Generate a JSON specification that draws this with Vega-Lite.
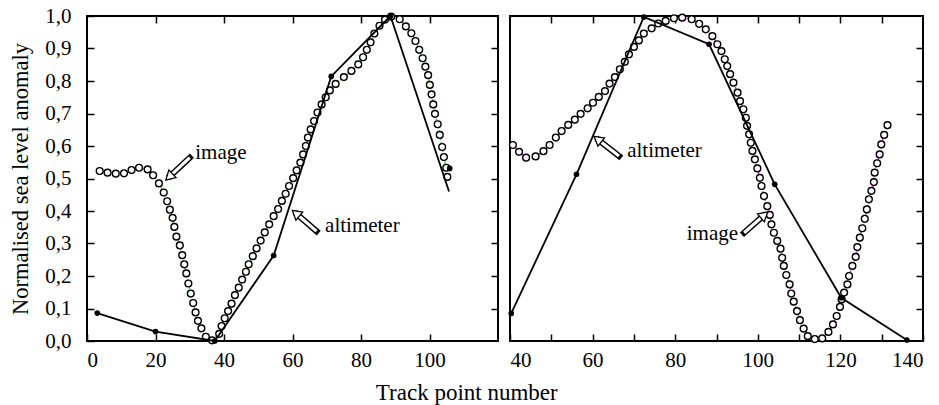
{
  "$schema": "https://vega.github.io/schema/vega-lite/v6.json",
  "background": "white",
  "padding": {"left": 8, "top": 4, "right": 14, "bottom": 0},
  "spacing": 5,
  "config": {
    "view": {"stroke": "black", "strokeWidth": 2},
    "font": "Liberation Serif",
    "axis": {"labelFont": "Liberation Serif", "titleFont": "Liberation Serif", "labelFontSize": 21, "titleFontSize": 22.5, "titleFontWeight": "normal", "labelColor": "black", "titleColor": "black", "tickColor": "black", "tickWidth": 1.5, "domain": false, "grid": false},
    "text": {"font": "Liberation Serif"}
  },
  "title": {"text": "Track point number", "orient": "bottom", "anchor": "middle", "font": "Liberation Serif", "fontSize": 23, "fontWeight": "normal", "color": "black", "offset": 11},
  "datasets": {
    "L_img": [
      {"x": 3.7, "y": 0.523}, {"x": 6.0, "y": 0.518}, {"x": 8.4, "y": 0.515}, {"x": 10.8, "y": 0.516}, {"x": 13.0, "y": 0.526}, {"x": 15.2, "y": 0.533}, {"x": 17.7, "y": 0.528}, {"x": 19.3, "y": 0.510}, {"x": 21.0, "y": 0.485}, {"x": 22.4, "y": 0.457}, {"x": 23.4, "y": 0.430}, {"x": 24.2, "y": 0.404}, {"x": 25.0, "y": 0.379}, {"x": 25.5, "y": 0.351}, {"x": 26.1, "y": 0.321}, {"x": 27.1, "y": 0.294}, {"x": 27.8, "y": 0.264}, {"x": 28.4, "y": 0.236}, {"x": 29.0, "y": 0.208}, {"x": 29.6, "y": 0.177}, {"x": 30.3, "y": 0.146}, {"x": 31.0, "y": 0.117}, {"x": 31.7, "y": 0.088}, {"x": 32.4, "y": 0.062}, {"x": 33.4, "y": 0.039}, {"x": 34.7, "y": 0.013}, {"x": 36.5, "y": 0.002},
      {"x": 38.6, "y": 0.022}, {"x": 39.3, "y": 0.046}, {"x": 40.2, "y": 0.070}, {"x": 41.2, "y": 0.092}, {"x": 42.2, "y": 0.115}, {"x": 43.2, "y": 0.141}, {"x": 44.3, "y": 0.164}, {"x": 45.3, "y": 0.189}, {"x": 46.4, "y": 0.213}, {"x": 47.2, "y": 0.236}, {"x": 48.4, "y": 0.261}, {"x": 49.5, "y": 0.285}, {"x": 50.7, "y": 0.309}, {"x": 51.9, "y": 0.334}, {"x": 53.2, "y": 0.359}, {"x": 54.5, "y": 0.384}, {"x": 55.8, "y": 0.406}, {"x": 56.9, "y": 0.431}, {"x": 58.0, "y": 0.453}, {"x": 59.0, "y": 0.477}, {"x": 60.2, "y": 0.501}, {"x": 61.2, "y": 0.525}, {"x": 62.3, "y": 0.549}, {"x": 63.1, "y": 0.574}, {"x": 63.9, "y": 0.600}, {"x": 64.5, "y": 0.626}, {"x": 65.3, "y": 0.651}, {"x": 66.3, "y": 0.677}, {"x": 67.3, "y": 0.703}, {"x": 68.5, "y": 0.728}, {"x": 69.7, "y": 0.750}, {"x": 70.9, "y": 0.771}, {"x": 72.6, "y": 0.791}, {"x": 75.0, "y": 0.812}, {"x": 77.2, "y": 0.831}, {"x": 79.2, "y": 0.851}, {"x": 80.6, "y": 0.873}, {"x": 81.7, "y": 0.896}, {"x": 82.8, "y": 0.919}, {"x": 83.9, "y": 0.946}, {"x": 85.4, "y": 0.970}, {"x": 87.0, "y": 0.989}, {"x": 88.8, "y": 0.998},
      {"x": 91.3, "y": 0.990}, {"x": 93.1, "y": 0.968}, {"x": 94.7, "y": 0.947}, {"x": 95.9, "y": 0.923}, {"x": 97.0, "y": 0.896}, {"x": 98.0, "y": 0.870}, {"x": 98.8, "y": 0.844}, {"x": 99.6, "y": 0.818}, {"x": 100.1, "y": 0.788}, {"x": 100.6, "y": 0.759}, {"x": 101.1, "y": 0.728}, {"x": 101.6, "y": 0.699}, {"x": 102.4, "y": 0.667}, {"x": 103.0, "y": 0.634}, {"x": 103.7, "y": 0.597}, {"x": 104.2, "y": 0.566}, {"x": 104.9, "y": 0.533}, {"x": 105.2, "y": 0.505}
    ],
    "L_alt": [
      {"x": 3.0, "y": 0.086, "kind": "both"}, {"x": 20.0, "y": 0.029, "kind": "both"}, {"x": 37.3, "y": 0.0, "kind": "both"}, {"x": 54.5, "y": 0.263, "kind": "both"}, {"x": 71.3, "y": 0.814, "kind": "both"}, {"x": 88.6, "y": 1.0, "kind": "both"}, {"x": 105.7, "y": 0.46, "kind": "line"}, {"x": 105.9, "y": 0.531, "kind": "dot"}
    ],
    "L_arrow": [
      {"tx": 30.0, "ty": 0.564, "hx": 24.3, "hy": 0.508, "dir": 227},
      {"tx": 67.0, "ty": 0.338, "hx": 61.3, "hy": 0.390, "dir": 310}
    ],
    "L_text": [
      {"x": 39.1, "y": 0.578, "label": "image"},
      {"x": 80.4, "y": 0.354, "label": "altimeter"}
    ],
    "R_img": [
      {"x": 40.7, "y": 0.603}, {"x": 42.2, "y": 0.582}, {"x": 43.9, "y": 0.564}, {"x": 46.2, "y": 0.568}, {"x": 48.1, "y": 0.584}, {"x": 49.6, "y": 0.603}, {"x": 51.1, "y": 0.626}, {"x": 52.5, "y": 0.646}, {"x": 54.1, "y": 0.665}, {"x": 55.7, "y": 0.681}, {"x": 57.1, "y": 0.699}, {"x": 58.8, "y": 0.716}, {"x": 60.1, "y": 0.733}, {"x": 61.5, "y": 0.751}, {"x": 63.0, "y": 0.769}, {"x": 64.1, "y": 0.792}, {"x": 65.4, "y": 0.812}, {"x": 66.6, "y": 0.836}, {"x": 67.8, "y": 0.859}, {"x": 68.8, "y": 0.882}, {"x": 70.0, "y": 0.905}, {"x": 71.2, "y": 0.925}, {"x": 72.4, "y": 0.946}, {"x": 74.3, "y": 0.962}, {"x": 75.9, "y": 0.977}, {"x": 77.7, "y": 0.985}, {"x": 79.7, "y": 0.993}, {"x": 81.7, "y": 0.995}, {"x": 84.0, "y": 0.990}, {"x": 85.8, "y": 0.976}, {"x": 87.4, "y": 0.959}, {"x": 89.0, "y": 0.938}, {"x": 90.2, "y": 0.913}, {"x": 91.2, "y": 0.892}, {"x": 92.0, "y": 0.867}, {"x": 92.6, "y": 0.846}, {"x": 93.3, "y": 0.821}, {"x": 94.1, "y": 0.795}, {"x": 95.1, "y": 0.764}, {"x": 95.7, "y": 0.738}, {"x": 96.5, "y": 0.713}, {"x": 97.1, "y": 0.687}, {"x": 97.4, "y": 0.662}, {"x": 97.9, "y": 0.636}, {"x": 98.3, "y": 0.610}, {"x": 98.7, "y": 0.585}, {"x": 99.3, "y": 0.559}, {"x": 99.9, "y": 0.531}, {"x": 100.5, "y": 0.502}, {"x": 100.9, "y": 0.477}, {"x": 101.5, "y": 0.446}, {"x": 102.3, "y": 0.415}, {"x": 102.9, "y": 0.388}, {"x": 103.3, "y": 0.359}, {"x": 103.9, "y": 0.333}, {"x": 104.7, "y": 0.308}, {"x": 105.5, "y": 0.284}, {"x": 105.9, "y": 0.256}, {"x": 106.3, "y": 0.231}, {"x": 106.9, "y": 0.203}, {"x": 107.7, "y": 0.174}, {"x": 108.1, "y": 0.146}, {"x": 108.7, "y": 0.121}, {"x": 109.5, "y": 0.092}, {"x": 110.2, "y": 0.064}, {"x": 111.1, "y": 0.038}, {"x": 112.1, "y": 0.015}, {"x": 113.8, "y": 0.006}, {"x": 115.6, "y": 0.008}, {"x": 117.1, "y": 0.028}, {"x": 118.2, "y": 0.051}, {"x": 119.1, "y": 0.077}, {"x": 119.9, "y": 0.105}, {"x": 120.3, "y": 0.128}, {"x": 120.9, "y": 0.149}, {"x": 121.7, "y": 0.174}, {"x": 122.1, "y": 0.200}, {"x": 122.9, "y": 0.231}, {"x": 123.7, "y": 0.259}, {"x": 124.1, "y": 0.289}, {"x": 124.7, "y": 0.318}, {"x": 125.3, "y": 0.347}, {"x": 125.9, "y": 0.376}, {"x": 126.4, "y": 0.405}, {"x": 126.9, "y": 0.436}, {"x": 127.5, "y": 0.462}, {"x": 128.1, "y": 0.489}, {"x": 128.3, "y": 0.518}, {"x": 128.9, "y": 0.547}, {"x": 129.5, "y": 0.574}, {"x": 129.9, "y": 0.605}, {"x": 130.6, "y": 0.634}, {"x": 131.4, "y": 0.664}
    ],
    "R_alt": [
      {"x": 40.3, "y": 0.085}, {"x": 56.1, "y": 0.513}, {"x": 72.4, "y": 0.997}, {"x": 88.2, "y": 0.913}, {"x": 104.1, "y": 0.482}, {"x": 120.2, "y": 0.133}, {"x": 136.1, "y": 0.003}
    ],
    "R_arrow": [
      {"tx": 66.4, "ty": 0.569, "hx": 61.5, "hy": 0.618, "dir": 308},
      {"tx": 96.7, "ty": 0.333, "hx": 101.3, "hy": 0.385, "dir": 49}
    ],
    "R_text": [
      {"x": 77.4, "y": 0.585, "label": "altimeter"},
      {"x": 89.0, "y": 0.329, "label": "image"}
    ]
  },
  "hconcat": [
    {
      "width": 411,
      "height": 325,
      "resolve": {"axis": {"x": "independent", "y": "independent"}},
      "layer": [
        {
          "data": {"name": "L_img"},
          "mark": {"type": "line", "color": "#33cc33", "strokeWidth": 1.5, "strokeDash": [2, 2]},
          "encoding": {
            "x": {"field": "x", "type": "quantitative", "scale": {"domain": [0, 120], "nice": false, "zero": false},
                  "axis": {"orient": "bottom", "values": [0, 20, 40, 60, 80, 100], "tickSize": -7, "labelPadding": 15, "title": null}},
            "y": {"field": "y", "type": "quantitative", "scale": {"domain": [0, 1], "nice": false},
                  "axis": {"orient": "left", "values": [0, 0.1, 0.2, 0.3, 0.4, 0.5, 0.6, 0.7, 0.8, 0.9, 1.0], "labelExpr": "replace(format(datum.value, '.1f'), '.', ',')", "tickSize": -7, "labelPadding": 23, "title": "Normalised sea level anomaly", "titlePadding": 12}}
          }
        },
        {
          "data": {"name": "L_img"},
          "mark": {"type": "point", "shape": "circle", "filled": true, "fill": "white", "stroke": "black", "strokeWidth": 1.4, "size": 46, "opacity": 1},
          "encoding": {
            "x": {"field": "x", "type": "quantitative", "axis": null},
            "y": {"field": "y", "type": "quantitative", "axis": null}
          }
        },
        {
          "data": {"name": "L_alt"},
          "transform": [{"filter": "datum.kind != 'dot'"}],
          "mark": {"type": "line", "color": "black", "strokeWidth": 1.8},
          "encoding": {
            "x": {"field": "x", "type": "quantitative",
                  "axis": {"orient": "top", "values": [20, 40, 60, 80, 100], "tickSize": -7, "labels": false, "title": null}},
            "y": {"field": "y", "type": "quantitative",
                  "axis": {"orient": "right", "values": [0.1, 0.2, 0.3, 0.4, 0.5, 0.6, 0.7, 0.8, 0.9], "tickSize": -7, "labels": false, "title": null}}
          }
        },
        {
          "data": {"name": "L_alt"},
          "transform": [{"filter": "datum.kind != 'line'"}],
          "mark": {"type": "point", "shape": "circle", "filled": true, "color": "black", "size": 32, "opacity": 1},
          "encoding": {
            "x": {"field": "x", "type": "quantitative", "axis": null},
            "y": {"field": "y", "type": "quantitative", "axis": null}
          }
        },
        {
          "data": {"name": "L_arrow"},
          "mark": {"type": "rule", "color": "black", "strokeWidth": 6, "strokeCap": "square"},
          "encoding": {
            "x": {"field": "tx", "type": "quantitative", "axis": null},
            "y": {"field": "ty", "type": "quantitative", "axis": null},
            "x2": {"field": "hx"},
            "y2": {"field": "hy"}
          }
        },
        {
          "data": {"name": "L_arrow"},
          "mark": {"type": "rule", "color": "white", "strokeWidth": 3.2, "strokeCap": "butt"},
          "encoding": {
            "x": {"field": "tx", "type": "quantitative", "axis": null},
            "y": {"field": "ty", "type": "quantitative", "axis": null},
            "x2": {"field": "hx"},
            "y2": {"field": "hy"}
          }
        },
        {
          "data": {"name": "L_arrow"},
          "mark": {"type": "point", "shape": "triangle", "filled": true, "fill": "white", "stroke": "black", "strokeWidth": 1.3, "size": 110, "opacity": 1},
          "encoding": {
            "x": {"field": "hx", "type": "quantitative", "axis": null},
            "y": {"field": "hy", "type": "quantitative", "axis": null},
            "angle": {"field": "dir", "type": "quantitative", "scale": null}
          }
        },
        {
          "data": {"name": "L_text"},
          "mark": {"type": "text", "font": "Liberation Serif", "fontSize": 21, "color": "black", "align": "center", "baseline": "middle"},
          "encoding": {
            "x": {"field": "x", "type": "quantitative", "axis": null},
            "y": {"field": "y", "type": "quantitative", "axis": null},
            "text": {"field": "label"}
          }
        }
      ]
    },
    {
      "width": 413,
      "height": 325,
      "resolve": {"axis": {"x": "independent", "y": "independent"}},
      "layer": [
        {
          "data": {"name": "R_img"},
          "mark": {"type": "line", "color": "#e020e0", "strokeWidth": 1.5, "strokeDash": [2, 2]},
          "encoding": {
            "x": {"field": "x", "type": "quantitative", "scale": {"domain": [40, 140], "nice": false, "zero": false},
                  "axis": {"orient": "bottom", "values": [40, 50, 60, 70, 80, 90, 100, 110, 120, 130, 140], "labelExpr": "datum.value % 20 == 0 ? datum.label : ''", "tickSize": -7, "labelPadding": 15, "title": null}},
            "y": {"field": "y", "type": "quantitative", "scale": {"domain": [0, 1], "nice": false}, "axis": null}
          }
        },
        {
          "data": {"name": "R_img"},
          "mark": {"type": "point", "shape": "circle", "filled": true, "fill": "white", "stroke": "black", "strokeWidth": 1.4, "size": 46, "opacity": 1},
          "encoding": {
            "x": {"field": "x", "type": "quantitative", "axis": null},
            "y": {"field": "y", "type": "quantitative", "axis": null}
          }
        },
        {
          "data": {"name": "R_alt"},
          "mark": {"type": "line", "color": "black", "strokeWidth": 1.8},
          "encoding": {
            "x": {"field": "x", "type": "quantitative",
                  "axis": {"orient": "top", "values": [50, 60, 70, 80, 90, 100, 110, 120, 130], "tickSize": -7, "labels": false, "title": null}},
            "y": {"field": "y", "type": "quantitative",
                  "axis": {"orient": "right", "values": [0.1, 0.2, 0.3, 0.4, 0.5, 0.6, 0.7, 0.8, 0.9], "tickSize": -7, "labels": false, "title": null}}
          }
        },
        {
          "data": {"name": "R_alt"},
          "mark": {"type": "point", "shape": "circle", "filled": true, "color": "black", "size": 32, "opacity": 1},
          "encoding": {
            "x": {"field": "x", "type": "quantitative", "axis": null},
            "y": {"field": "y", "type": "quantitative", "axis": null}
          }
        },
        {
          "data": {"name": "R_arrow"},
          "mark": {"type": "rule", "color": "black", "strokeWidth": 6, "strokeCap": "square"},
          "encoding": {
            "x": {"field": "tx", "type": "quantitative", "axis": null},
            "y": {"field": "ty", "type": "quantitative", "axis": null},
            "x2": {"field": "hx"},
            "y2": {"field": "hy"}
          }
        },
        {
          "data": {"name": "R_arrow"},
          "mark": {"type": "rule", "color": "white", "strokeWidth": 3.2, "strokeCap": "butt"},
          "encoding": {
            "x": {"field": "tx", "type": "quantitative", "axis": null},
            "y": {"field": "ty", "type": "quantitative", "axis": null},
            "x2": {"field": "hx"},
            "y2": {"field": "hy"}
          }
        },
        {
          "data": {"name": "R_arrow"},
          "mark": {"type": "point", "shape": "triangle", "filled": true, "fill": "white", "stroke": "black", "strokeWidth": 1.3, "size": 110, "opacity": 1},
          "encoding": {
            "x": {"field": "hx", "type": "quantitative", "axis": null},
            "y": {"field": "hy", "type": "quantitative", "axis": null},
            "angle": {"field": "dir", "type": "quantitative", "scale": null}
          }
        },
        {
          "data": {"name": "R_text"},
          "mark": {"type": "text", "font": "Liberation Serif", "fontSize": 21, "color": "black", "align": "center", "baseline": "middle"},
          "encoding": {
            "x": {"field": "x", "type": "quantitative", "axis": null},
            "y": {"field": "y", "type": "quantitative", "axis": null},
            "text": {"field": "label"}
          }
        }
      ]
    }
  ]
}
